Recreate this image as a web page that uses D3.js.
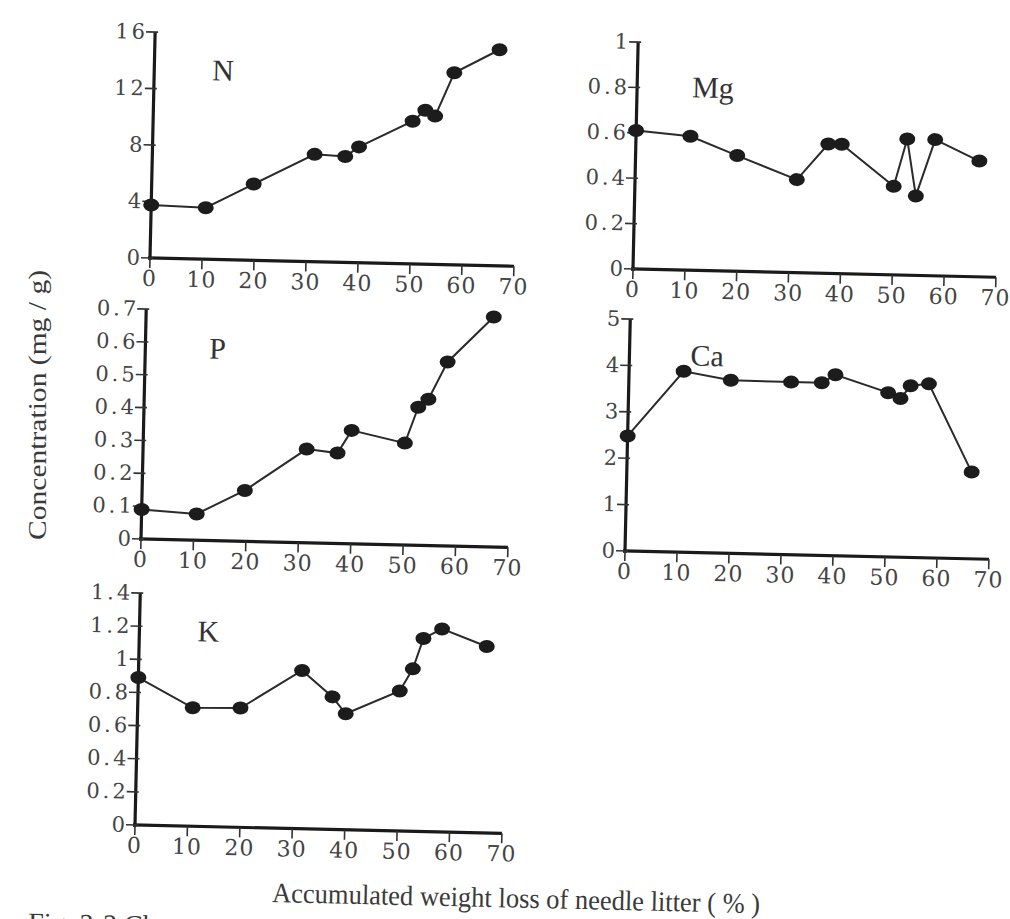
<!DOCTYPE html>
<meta charset="utf-8">
<style>
body { margin: 0; background: #fff; }
.tick-label { font-family: "DejaVu Serif", serif; fill: #444; }
.panel-name { font-family: "Liberation Serif", serif; font-size: 30px; fill: #333; }
.axis-title { font-family: "Liberation Serif", serif; fill: #3a3a3a; }
</style>
<svg width="1010" height="919"></svg>
<script src="https://d3js.org/d3.v7.min.js"></script>
<script>

// accumulated weight loss of needle litter (%)
var weightLoss = [0, 10.5, 19.6, 31.2, 37.1, 39.7, 49.9, 52.3, 54.2, 57.7, 66.3];

// concentrations (mg / g)
var nConc  = [3.75, 3.65, 5.4, 7.6, 7.5, 8.2, 10.1, 10.9, 10.5, 13.6, 15.3];
var mgConc = [0.61, 0.59, 0.51, 0.41, 0.57, 0.57, 0.39, 0.60, 0.35, 0.60, 0.51];
var pConc  = [0.09, 0.08, 0.155, 0.285, 0.275, 0.345, 0.31, 0.42, 0.445, 0.56, 0.70];
var caConc = [2.48, 3.9, 3.73, 3.72, 3.72, 3.9, 3.54, 3.42, 3.7, 3.75, 1.87];
var kConc  = [0.89, 0.715, 0.72, 0.955, 0.80, 0.70, 0.845, 0.98, 1.165, 1.225, 1.125];

var xTicks = [0, 10, 20, 30, 40, 50, 60, 70];
var nTicks  = [0, 4, 8, 12, 16];
var mgTicks = [0, 0.2, 0.4, 0.6, 0.8, 1];
var pTicks  = [0, 0.1, 0.2, 0.3, 0.4, 0.5, 0.6, 0.7];
var caTicks = [0, 1, 2, 3, 4, 5];
var kTicks  = [0, 0.2, 0.4, 0.6, 0.8, 1, 1.2, 1.4];

// layout of the five panels (origin in page px, axis lengths in px)
var panels = [
  {name: "N",  values: nConc,  ticks: nTicks,  ox: 150, oy: 258, xLen: 364, yLen: 226, lx: 58, ly: -179},
  {name: "Mg", values: mgConc, ticks: mgTicks, ox: 633, oy: 269, xLen: 363, yLen: 227, lx: 55, ly: -173},
  {name: "P",  values: pConc,  ticks: pTicks,  ox: 141, oy: 539, xLen: 367, yLen: 230, lx: 64, ly: -182},
  {name: "Ca", values: caConc, ticks: caTicks, ox: 625, oy: 551, xLen: 364, yLen: 232, lx: 61, ly: -187},
  {name: "K",  values: kConc,  ticks: kTicks,  ox: 135, oy: 825, xLen: 367, yLen: 232, lx: 58, ly: -185}
];

var tilt = 1.3; // the scanned page sits slightly skewed

var svg = d3.select("svg");
svg.append("rect").attr("width", 1010).attr("height", 919).attr("fill", "#fff");

panels.forEach(function(p) {
  var x = d3.scaleLinear().domain([0, 70]).range([0, p.xLen]);
  var y = d3.scaleLinear().domain([0, d3.max(p.ticks)]).range([0, -p.yLen]);

  var g = svg.append("g")
      .attr("transform", "translate(" + p.ox + "," + p.oy + ") rotate(" + tilt + ")");

  // axes
  g.append("line")
      .attr("x1", 0).attr("y1", 2).attr("x2", 0).attr("y2", -p.yLen)
      .attr("stroke", "#1a1a1a").attr("stroke-width", 3.2);
  g.append("line")
      .attr("x1", -2).attr("y1", 0).attr("x2", p.xLen).attr("y2", 0)
      .attr("stroke", "#1a1a1a").attr("stroke-width", 3.2);

  // y ticks
  var yt = g.selectAll(".yt").data(p.ticks).enter().append("g")
      .attr("transform", function(d) { return "translate(0," + y(d) + ")"; });
  yt.append("line").attr("x1", -9).attr("x2", 3)
      .attr("stroke", "#333").attr("stroke-width", 1.6);
  yt.append("text").attr("class", "tick-label")
      .attr("x", -7).attr("y", 7)
      .attr("text-anchor", "end")
      .style("font-size", "21px").style("letter-spacing", "3px")
      .text(function(d) { return String(+d.toFixed(1)); });

  // x ticks
  var xt = g.selectAll(".xt").data(xTicks).enter().append("g")
      .attr("transform", function(d) { return "translate(" + x(d) + ",0)"; });
  xt.append("line").attr("y1", 0).attr("y2", 10)
      .attr("stroke", "#333").attr("stroke-width", 1.6);
  xt.append("text").attr("class", "tick-label")
      .attr("y", 28)
      .attr("text-anchor", "middle")
      .style("font-size", "22px").style("letter-spacing", "1px")
      .text(function(d) { return d; });

  // data
  var pts = weightLoss.map(function(w, i) { return [w, p.values[i]]; });
  g.append("path")
      .attr("d", d3.line().x(function(d) { return x(d[0]); }).y(function(d) { return y(d[1]); })(pts))
      .attr("fill", "none").attr("stroke", "#2a2a2a").attr("stroke-width", 2);
  g.selectAll(".dot").data(pts).enter().append("ellipse")
      .attr("cx", function(d) { return x(d[0]); })
      .attr("cy", function(d) { return y(d[1]); })
      .attr("rx", 8).attr("ry", 6.5)
      .attr("fill", "#1c1c1c");

  g.append("text").attr("class", "panel-name")
      .attr("x", p.lx).attr("y", p.ly)
      .text(p.name);
});

// shared axis titles
svg.append("text").attr("class", "axis-title")
    .attr("transform", "translate(46,405) rotate(-90)")
    .attr("text-anchor", "middle")
    .style("font-size", "25px")
    .attr("textLength", 270).attr("lengthAdjust", "spacingAndGlyphs")
    .text("Concentration (mg / g)");

svg.append("text").attr("class", "axis-title")
    .attr("transform", "translate(272,902) rotate(" + tilt + ")")
    .style("font-size", "28px")
    .attr("textLength", 488).attr("lengthAdjust", "spacingAndGlyphs")
    .text("Accumulated weight loss of needle litter ( % )");

svg.append("text").attr("class", "axis-title")
    .attr("transform", "translate(28,932) rotate(" + tilt + ")")
    .style("font-size", "28px")
    .text("Fig. 3-3 Changes");

</script>
